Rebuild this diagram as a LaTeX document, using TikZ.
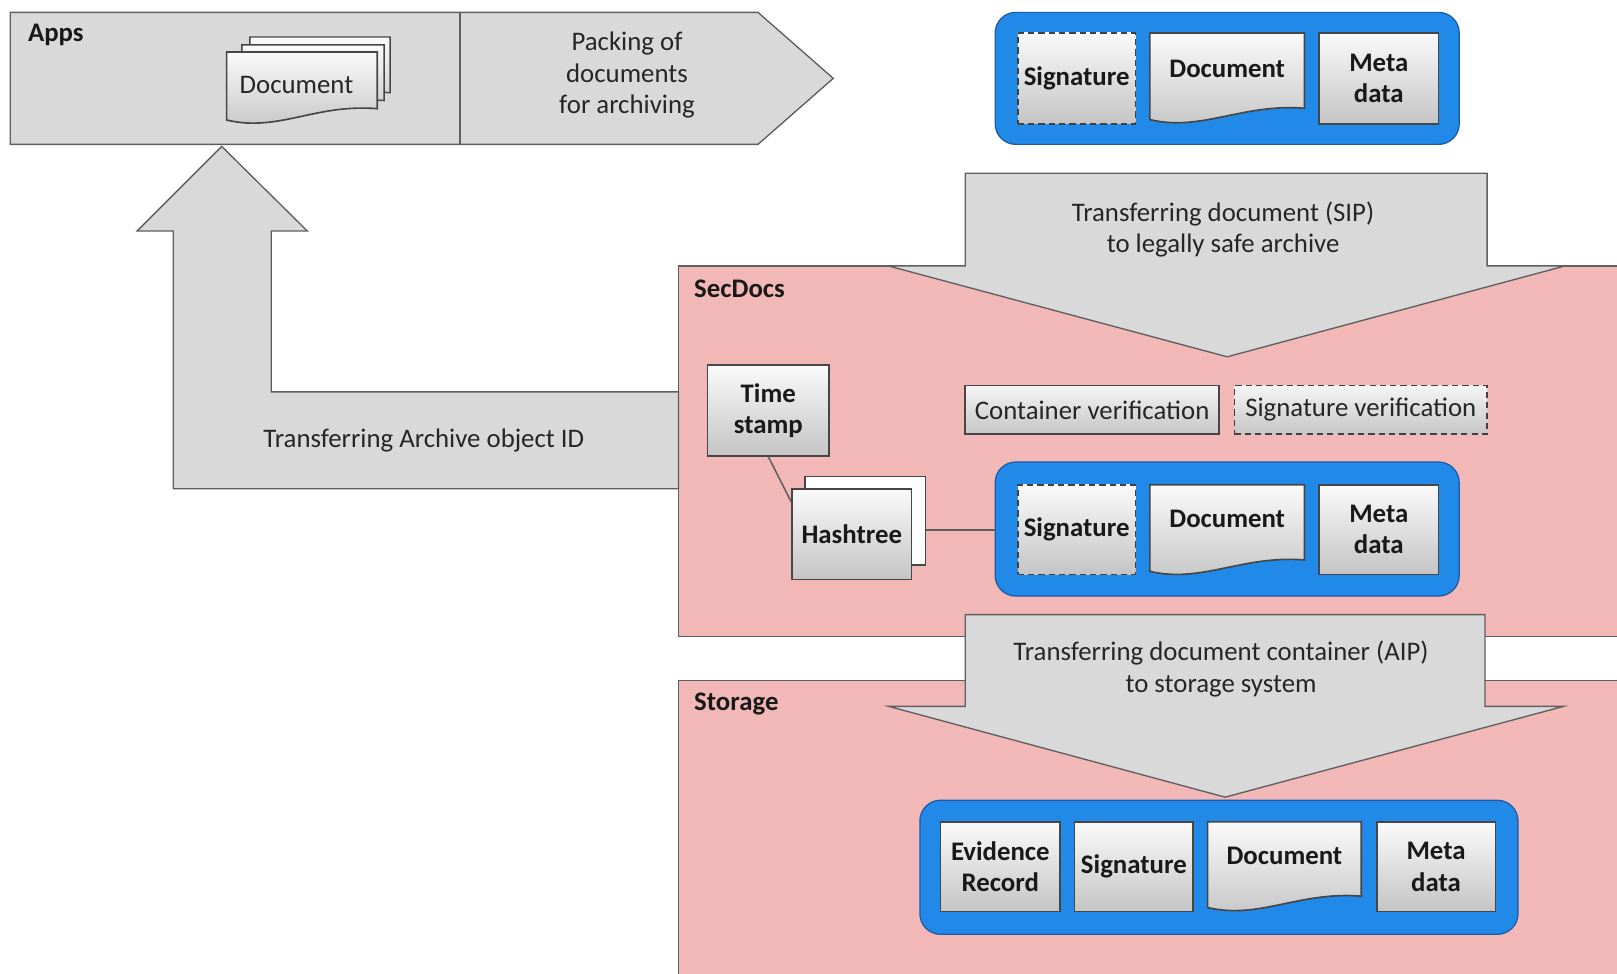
\documentclass[tikz,border=0pt]{standalone}
\usepackage{fontspec}
\setmainfont{Carlito}
\usetikzlibrary{calc}
\definecolor{arrowgray}{RGB}{217,217,217}
\definecolor{edgegray}{RGB}{95,95,95}
\definecolor{pinkbg}{RGB}{242,184,184}
\definecolor{blueC}{RGB}{33,137,232}
\definecolor{blueE}{RGB}{30,90,165}
\definecolor{boxedge}{RGB}{70,70,70}
\definecolor{cardtop}{RGB}{250,250,250}
\definecolor{cardbot}{RGB}{196,196,196}
\newcommand\docoutline[2][]{%
  \draw[docshape,#1] (#2.north west) -- (#2.north east) -- ($(#2.south east)+(0,-14)$)
    .. controls ($(#2.south east)+(-60,-19)$) and ($(#2.south west)+(50,9)$) .. ($(#2.south west)+(0,-3)$) -- cycle;}
\begin{document}
\begin{tikzpicture}[x=1pt,y=-1pt,
  txt/.style={font=\fontsize{26}{30.5}\selectfont, align=center, text=black!85, inner sep=0pt},
  btxt/.style={font=\fontsize{26}{30.5}\selectfont\bfseries, align=center, text=black!90, inner sep=0pt},
  flow/.style={draw=edgegray, fill=arrowgray, line width=1.3pt, line join=miter},
  zone/.style={draw=edgegray, fill=pinkbg, line width=1.3pt},
  container/.style={draw=blueE, fill=blueC, rounded corners=20pt, line width=1.2pt, inner sep=0pt},
  card/.style={draw=boxedge, line width=1.6pt, top color=cardtop, bottom color=cardbot, inner sep=0pt,
    font=\fontsize{26}{30.5}\selectfont\bfseries, align=center, text=black!90},
  dashcard/.style={card, draw=black!75, dash pattern=on 6pt off 4pt},
  area/.style={inner sep=0pt, outer sep=0pt},
  docshape/.style={draw=boxedge, line width=1.6pt, top color=cardtop, bottom color=cardbot},
  backpage/.style={draw=boxedge, line width=1.4pt, fill=white},
  conn/.style={draw=edgegray, line width=1.5pt},
]
\useasboundingbox (0,0) rectangle (1568,944);
\fill[white] (0,0) rectangle (1568,944);

% zones
\draw[zone] (658,258) rectangle (1590,617);
\draw[zone] (658,660) rectangle (1590,960);

% Apps process arrow
\draw[flow] (10,12) -- (735,12) -- (808,76) -- (735,140) -- (10,140) -- cycle;
\draw[conn, line width=1.3pt] (446,12) -- (446,140);
\node[btxt, anchor=west] (appslbl) at (27,34) {Apps};
\node[txt] (packtxt) at (608,73) {Packing of\\documents\\for archiving};

% document stack in Apps
\node[area, minimum width=136pt, minimum height=68pt] (pg3) at (310.3,69.9) {};
\node[area, minimum width=138pt, minimum height=68pt] (pg2) at (303.5,77.5) {};
\node[area, minimum width=146pt, minimum height=69pt] (pg1) at (292.8,84.9) {};
\docoutline[backpage]{pg3}
\docoutline[backpage]{pg2}
\docoutline{pg1}
\node[txt] (pg1t) at (287.5,82) {Document};

% L-shaped return arrow
\draw[flow] (215,142) -- (298,224) -- (263,224) -- (263,380) -- (658,380) -- (658,474)
  -- (168,474) -- (168,224) -- (133,224) -- cycle;
\node[txt] (idtxt) at (411,427) {Transferring Archive object ID};

% SIP arrow
\draw[flow] (936,168) -- (1442,168) -- (1442,258) -- (1517,258) -- (1190,346) -- (862,258) -- (936,258) -- cycle;
\node[txt] (siptxt) at (1186,222.5) {Transferring document (SIP)\\to legally safe archive};

% AIP arrow
\draw[flow] (936,596) -- (1440,596) -- (1440,685) -- (1516,685) -- (1188,773) -- (862,685) -- (936,685) -- cycle;
\node[txt] (aiptxt) at (1184,648.5) {Transferring document container (AIP)\\to storage system};

\node[btxt, anchor=west] (seclbl) at (673,280) {SecDocs};
\node[btxt, anchor=west] (storlbl) at (673,683) {Storage};

% top container
\node[container, minimum width=450pt, minimum height=128pt] (cont1) at (1190,76) {};
\node[dashcard, minimum width=114pt, minimum height=88pt] (sig1) at (1044,76) {Signature};
\node[area, minimum width=150pt, minimum height=87pt] (doc1) at (1190,75.5) {};
\docoutline{doc1}
\node[btxt] (doc1t) at (1190,67) {Document};
\node[card, minimum width=116pt, minimum height=88pt] (meta1) at (1337,76) {Meta\\data};

% verification boxes
\node[card, top color=white!92!gray, bottom color=gray!45, line width=1.5pt, minimum width=246pt, minimum height=47pt,
  font=\fontsize{26}{30.5}\selectfont, text=black!85] (cver) at (1059,397.5) {Container verification};
\node[dashcard, top color=white!92!gray, bottom color=gray!45, line width=1.5pt, minimum width=245pt, minimum height=47pt,
  font=\fontsize{26}{30.5}\selectfont, text=black!85] (sver) at (1319.5,397.5) {Signature verification};

% time stamp and hashtree
\node[card, minimum width=118pt, minimum height=88pt] (ts) at (745,398) {Time\\stamp};
\node[backpage, minimum width=117pt, minimum height=86pt] (hashB) at (839,505) {};
\node[card, minimum width=116pt, minimum height=88pt] (hashF) at (826,518) {Hashtree};

% middle container
\node[container, minimum width=450pt, minimum height=130pt] (cont2) at (1190,513) {};
\node[dashcard, minimum width=114pt, minimum height=87pt] (sig2) at (1044,513.5) {Signature};
\node[area, minimum width=150pt, minimum height=87pt] (doc2) at (1190,513.5) {};
\docoutline{doc2}
\node[btxt] (doc2t) at (1190,503) {Document};
\node[card, minimum width=116pt, minimum height=87pt] (meta2) at (1337,513.5) {Meta\\data};

% connectors
\draw[conn] (ts.south) -- ($(hashF.north west)!0.15!(hashF.south west)$);
\draw[conn] ($(hashB.north east)!0.6!(hashB.south east)$) coordinate (hx) -- (hx -| cont2.west);

% bottom container
\node[container, minimum width=580pt, minimum height=130pt] (cont3) at (1182,841) {};
\node[card, minimum width=116pt, minimum height=87pt] (ev) at (970,840.5) {Evidence\\Record};
\node[card, minimum width=115pt, minimum height=87pt] (sig3) at (1099.5,840.5) {Signature};
\node[area, minimum width=149pt, minimum height=86pt] (doc3) at (1245.5,840) {};
\docoutline{doc3}
\node[btxt] (doc3t) at (1245.5,830) {Document};
\node[card, minimum width=115pt, minimum height=87pt] (meta3) at (1392.5,840.5) {Meta\\data};
\end{tikzpicture}
\end{document}
